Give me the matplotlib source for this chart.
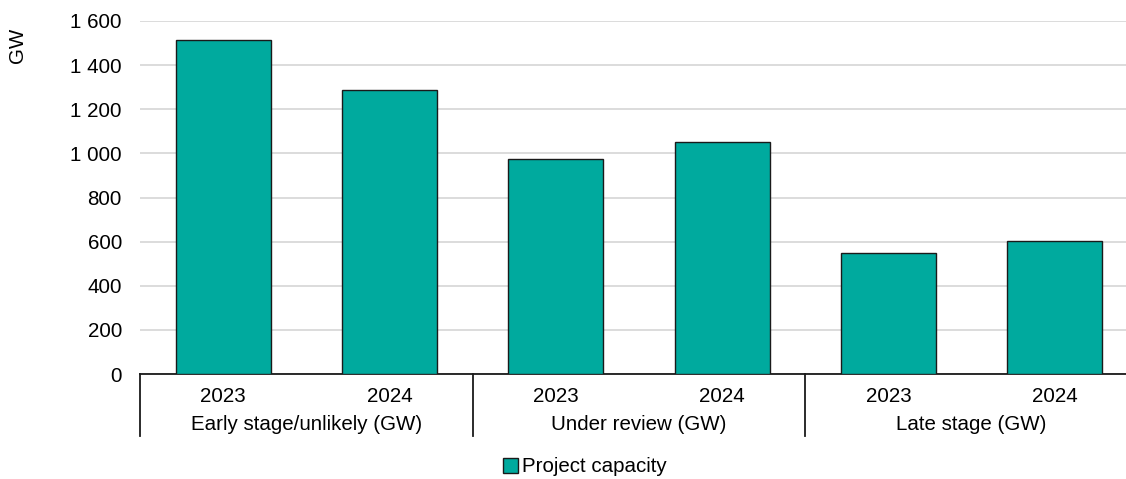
import matplotlib
matplotlib.use('Agg')
from matplotlib import pyplot as plt
from matplotlib.patches import Patch
import matplotlib.transforms as mtransforms

# data
groups = ['Early stage/unlikely (GW)', 'Under review (GW)', 'Late stage (GW)']
years = ['2023', '2024']
capacity = [1514, 1289, 976, 1050, 550, 601]
series_name = 'Project capacity'

plt.rcParams['font.family'] = ['Liberation Sans', 'DejaVu Sans']
fs = 14.8

fig = plt.figure(figsize=(11.26, 4.79), dpi=100)
W, H = 1126, 479
ax = fig.add_axes([140 / W, (H - 374) / H, 998 / W, 353 / H])

x = list(range(len(capacity)))
ax.bar(x, capacity, width=0.57, color='#00AA9E', edgecolor='#1a1a1a', linewidth=1.0, zorder=3)

ax.set_xlim(-0.5, len(capacity) - 0.5)
ax.set_ylim(0, 1600)
ax.set_yticks(range(0, 1601, 200))
ax.set_yticklabels([f'{v:,}'.replace(',', ' ') for v in range(0, 1601, 200)], fontsize=fs)
ax.yaxis.grid(True, color='#d9d9d9', linewidth=1.3, zorder=0)
ax.tick_params(axis='y', length=0, pad=13)

ax.set_xticks(x)
ax.set_xticklabels(years * len(groups), fontsize=fs)
ax.tick_params(axis='x', length=0, pad=9)

for s in ['left', 'right', 'top']:
    ax.spines[s].set_visible(False)
ax.spines['bottom'].set_color('#1a1a1a')
ax.spines['bottom'].set_linewidth(1.3)

trans = mtransforms.blended_transform_factory(ax.transData, ax.transAxes)
sep_bottom = -(436 - 374) / 353
for i in range(len(groups) + 1):
    xs = i * 2 - 0.5
    ax.plot([xs, xs], [0, sep_bottom], color='#1a1a1a', linewidth=1.3,
            transform=trans, clip_on=False)
for i, g in enumerate(groups):
    ax.text(i * 2 + 0.5, -(424 - 374) / 353, g, transform=trans,
            ha='center', va='center', fontsize=fs)

fig.text(17 / W, 1 - 45 / H, 'GW', rotation=90, ha='center', va='center', fontsize=fs)

handle = Patch(facecolor='#00AA9E', edgecolor='#1a1a1a', linewidth=1.0)
fig.legend([handle], [series_name], loc='center', bbox_to_anchor=(585 / W, 1 - 467 / H),
           frameon=False, fontsize=fs, handlelength=0.7, handleheight=0.7,
           handletextpad=0.2, borderpad=0)

fig.savefig('out.png', dpi=100)
